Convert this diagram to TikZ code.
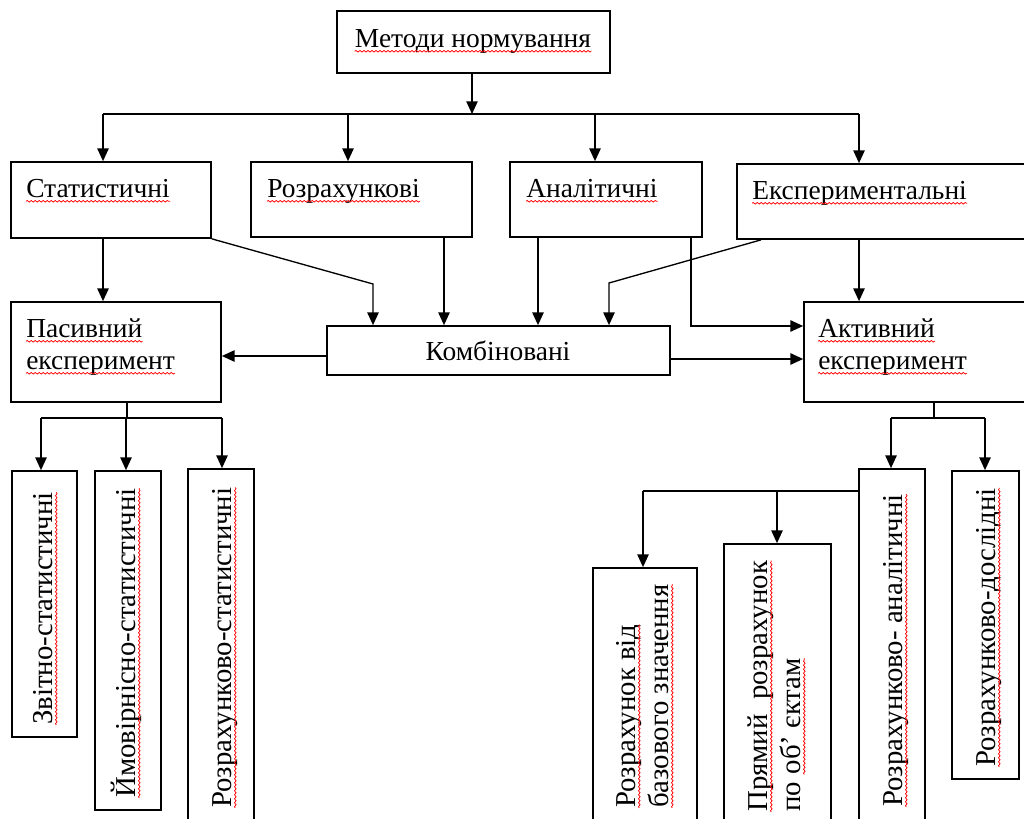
\documentclass[tikz,border=0pt]{standalone}
\usepackage{fontspec}
\setmainfont{Liberation Serif}
\usetikzlibrary{arrows.meta,fit,decorations.pathmorphing}
\begin{document}
\begin{tikzpicture}[x=0.75pt,y=-0.75pt,
 box/.style={draw, line width=1.3pt, inner sep=0pt},
 lbl/.style={inner sep=0pt, font=\fontsize{20.6}{24}\selectfont},
 vlbl/.style={inner sep=0pt, font=\fontsize{21.6}{24}\selectfont, rotate=90, anchor=base west},
 hlbl/.style={lbl, anchor=base west},
 conn/.style={line width=1pt},
 arr/.style={conn, -{Triangle[length=9.5pt,width=8.5pt]}},
 squig/.style={draw=red, line width=0.55pt, decorate,
   decoration={snake, amplitude=0.6pt, segment length=3pt}},
]
\useasboundingbox (0,0) rectangle (1024,818);
\clip (0,0) rectangle (1024,818);
\fill[white] (0,0) rectangle (1024,818);

% boxes and texts
\node[box, fit={(337,11) (610,73)}] (top) {};
\node[lbl, anchor=base] (ttop) at (473,47) {Методи нормування};
\node[box, fit={(11,162) (211,238)}] (stat) {};
\node[hlbl] (tstat) at (26,197) {Статистичні};
\node[box, fit={(251,162) (472,237)}] (rozr) {};
\node[hlbl] (trozr) at (267,197) {Розрахункові};
\node[box, fit={(510,162) (702,237)}] (anal) {};
\node[hlbl] (tanal) at (526,197) {Аналітичні};
\node[box, fit={(737,164) (1040,239)}] (exper) {};
\node[hlbl] (texper) at (752,199) {Експериментальні};
\node[box, fit={(11,302) (221,402)}] (pas) {};
\node[hlbl] (tpas1) at (26,337) {Пасивний};
\node[hlbl] (tpas2) at (26,369) {експеримент};
\node[box, fit={(327,326) (670,375)}] (komb) {};
\node[lbl, anchor=base] (tkomb) at (498,360) {Комбіновані};
\node[box, fit={(804,302) (1040,402)}] (akt) {};
\node[hlbl] (takt1) at (818,337) {Активний};
\node[hlbl] (takt2) at (818,369) {експеримент};

\node[box, fit={(12,471) (77,737)}] (zvit) {};
\node[vlbl] (tzvit) at (52,725) {Звітно-статистичні};
\node[box, fit={(95,471) (161,810)}] (ymov) {};
\node[vlbl] (tymov) at (135,798) {Ймовірнісно-статистичні};
\node[box, fit={(188,469) (254,840)}] (rozst) {};
\node[vlbl] (trozst) at (231,808) {Розрахунково-статистичні};
\node[box, fit={(593,568) (697,840)}] (rbaz) {};
\node[vlbl] (trbaz1) at (635,808) {Розрахунок від};
\node[vlbl] (trbaz2) at (668,808) {базового значення};
\node[box, fit={(724,544) (831,840)}] (pryam) {};
\node[vlbl] (tpryam1) at (767,812) {Прямий\ \ розрахунок};
\node[vlbl] (tpryam2) at (800,812) {по\ \null};
\node[vlbl] (tpryam3) at (tpryam2.base east) {об’ єктам};
\node[box, fit={(859,469) (925,840)}] (ranal) {};
\node[vlbl] (tranal) at (902,807) {Розрахунково- аналітичні};
\node[box, fit={(952,471) (1019,779)}] (rdosl) {};
\node[vlbl] (trdosl) at (995,767) {Розрахунково-дослідні};

% spell-check underlines
\foreach \t in {ttop,tstat,trozr,tanal,texper,tpas1,tpas2,takt1,takt2}
  \draw[squig] ([yshift=-3.2pt]\t.base west) -- ([yshift=-3.2pt]\t.base east);
\foreach \t in {tzvit,tymov,trozst,trbaz1,trbaz2,tpryam1,tpryam3,tranal,trdosl}
  \draw[squig] ([xshift=3.2pt]\t.base west) -- ([xshift=3.2pt]\t.base east);

% top tree
\coordinate (b0) at (472,114);
\draw[arr] (top.south -| b0) -- (b0);
\coordinate (d1) at (103,114);
\coordinate (d2) at (348,114);
\coordinate (d3) at (595,114);
\coordinate (d4) at (859,114);
\draw[conn] (d1) -- (d4);
\draw[arr] (d1) -- (d1 |- stat.north);
\draw[arr] (d2) -- (d2 |- rozr.north);
\draw[arr] (d3) -- (d3 |- anal.north);
\draw[arr] (d4) -- (d4 |- exper.north);

% middle
\draw[arr] (stat.south -| d1) -- (pas.north -| d1);
\coordinate (k1) at (373,284);
\draw[arr] (stat.south east) -- (k1) -- (k1 |- komb.north);
\coordinate (k2) at (444,0);
\draw[arr] (rozr.south -| k2) -- (komb.north -| k2);
\coordinate (k3) at (538,0);
\draw[arr] (anal.south -| k3) -- (komb.north -| k3);
\coordinate (a1) at (691,326);
\draw[arr] (anal.south -| a1) -- (a1) -- (a1 -| akt.west);
\coordinate (e1) at (761,0);
\coordinate (k4) at (609,283);
\draw[arr] (exper.south -| e1) -- (k4) -- (k4 |- komb.north);
\draw[arr] (exper.south -| d4) -- (akt.north -| d4);
\coordinate (m1) at (0,356);
\draw[arr] (komb.west |- m1) -- (pas.east |- m1);
\coordinate (m2) at (0,359);
\draw[arr] (komb.east |- m2) -- (akt.west |- m2);

% bottom left
\coordinate (p0) at (127,418);
\draw[conn] (pas.south -| p0) -- (p0);
\coordinate (p1) at (41,418);
\coordinate (p2) at (126,418);
\coordinate (p3) at (222,418);
\draw[conn] (p1) -- (p3);
\draw[arr] (p1) -- (p1 |- zvit.north);
\draw[arr] (p2) -- (p2 |- ymov.north);
\draw[arr] (p3) -- (p3 |- rozst.north);

% bottom right
\coordinate (q0) at (934,418);
\draw[conn] (akt.south -| q0) -- (q0);
\coordinate (q1) at (891,418);
\coordinate (q2) at (985,418);
\draw[conn] (q1) -- (q2);
\draw[arr] (q1) -- (q1 |- ranal.north);
\draw[arr] (q2) -- (q2 |- rdosl.north);
\coordinate (r0) at (0,491);
\coordinate (r1) at (643,491);
\coordinate (r2) at (777,491);
\draw[conn] (ranal.west |- r0) -- (r1);
\draw[arr] (r1) -- (r1 |- rbaz.north);
\draw[arr] (r2) -- (r2 |- pryam.north);
\end{tikzpicture}
\end{document}
